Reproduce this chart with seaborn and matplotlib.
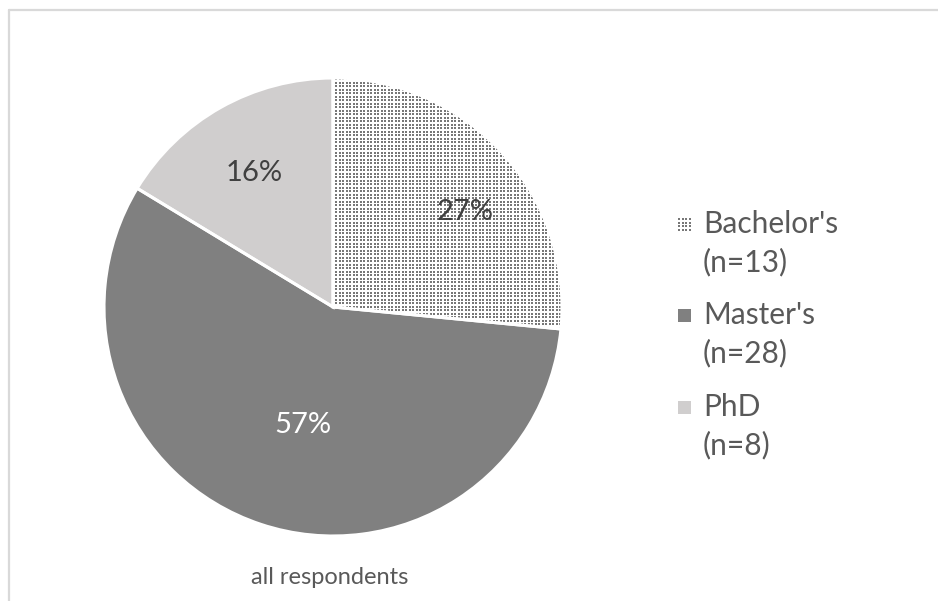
import numpy as np
import matplotlib
matplotlib.use("Agg")
import matplotlib.pyplot as plt
from matplotlib.lines import Line2D
import seaborn as sns

# Degree of respondents
categories = ["Bachelor's", "Master's", "PhD"]
counts = [13, 28, 8]
title = "all respondents"

sns.set_theme(style="white")
plt.rcParams["font.family"] = ["Lato", "DejaVu Sans"]

W, H = 938, 601
fig = plt.figure(figsize=(W / 100, H / 100), dpi=100)
fig.patch.set_facecolor("white")


def fx(px):
    return px / W


def fy(py):
    return 1 - py / H


def dot_texture(n, dot="#777777"):
    """Fine dotted fill: 2-px grey dots on white, about 3.5 px apart."""
    idx = np.arange(n)
    on = np.isin(idx % 7, [0, 1, 4, 5])
    mask = on[:, None] & on[None, :]
    rgb = np.ones((n, n, 3))
    rgb[mask] = matplotlib.colors.to_rgb(dot)
    return rgb


# light frame on the top and left edges
fig.add_artist(Line2D([fx(8.5), fx(8.5)], [0, fy(9.5)], transform=fig.transFigure,
                      color="#d9d9d9", lw=1.6))
fig.add_artist(Line2D([fx(8.5), 1], [fy(9.5), fy(9.5)], transform=fig.transFigure,
                      color="#d9d9d9", lw=1.6))

cx, cy, r = 333, 307, 229
ax = fig.add_axes([fx(cx - r), fy(cy + r), 2 * r / W, 2 * r / H])

face = ["white", "#808080", "#d0cece"]
dotted = [True, False, False]

wedges, _ = ax.pie(counts, startangle=90, counterclock=False, colors=face,
                   wedgeprops=dict(linewidth=0))
for w, d in zip(wedges, dotted):
    if d:
        im = ax.imshow(dot_texture(2 * r), extent=[-1, 1, -1, 1],
                       interpolation="nearest", zorder=1.5)
        im.set_clip_path(w)

# white separators on top
sep, _ = ax.pie(counts, startangle=90, counterclock=False, colors=["none"] * 3,
                wedgeprops=dict(linewidth=2.2, edgecolor="white", fill=False))
for s in sep:
    s.set_zorder(3)

# percentage labels, nudged off the wedge bisector
total = sum(counts)
dist = [0.71, 0.53, 0.68]
ang_shift = [-6.7, 4.0, 1.0]
txt_col = ["#404040", "white", "#404040"]
for w, n, d, s, tc in zip(wedges, counts, dist, ang_shift, txt_col):
    ang = np.deg2rad((w.theta1 + w.theta2) / 2 + s)
    ax.text(d * np.cos(ang), d * np.sin(ang), f"{round(100 * n / total)}%",
            ha="center", va="center", fontsize=21, color=tc, zorder=4)

ax.set_xlim(-1.0, 1.0)
ax.set_ylim(-1.0, 1.0)
ax.set_aspect("equal")
ax.axis("off")

# legend: marker aligned with the first line of each two-line entry
base_y = [233, 324, 416]
line_gap = 38
m = 13
for cat, n, fc, d, by in zip(categories, counts, face, dotted, base_y):
    kax = fig.add_axes([fx(678), fy(by - 2), m / W, m / H])
    if d:
        kax.imshow(dot_texture(m), interpolation="nearest", extent=[0, 1, 0, 1])
    else:
        kax.imshow(np.ones((1, 1, 3)) * np.array(matplotlib.colors.to_rgb(fc)),
                   extent=[0, 1, 0, 1])
    kax.set_xlim(0, 1)
    kax.set_ylim(0, 1)
    kax.axis("off")
    fig.text(fx(703), fy(by), cat, ha="left", va="baseline",
             fontsize=21.5, color="#595959")
    fig.text(fx(703), fy(by + line_gap), f"(n={n})", ha="left", va="baseline",
             fontsize=21.5, color="#595959")

fig.text(fx(cx - 3), fy(578), title, ha="center", va="center",
         fontsize=17, color="#595959")

fig.savefig("out.png", dpi=100, facecolor="white")
